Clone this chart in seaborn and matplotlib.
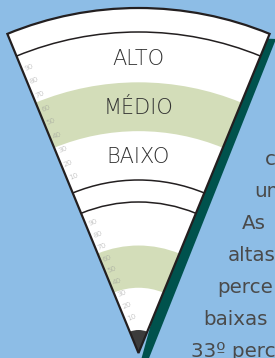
import numpy as np
import matplotlib
matplotlib.use("Agg")
import matplotlib.pyplot as plt
import seaborn as sns
from matplotlib.patches import Wedge, Arc, Polygon

# chart content
band_labels = ["BAIXO", "MÉDIO", "ALTO"]
band_edges = [0, 33, 66, 100]          # percentile cut points
pct_ticks = [10, 20, 30, 40, 50, 60, 70, 80, 90]
side_text = ["c", "um", "As", "altas", "perce", "baixas", "33º perc"]

# colours
BG = "#8dbde6"
GREEN = "#d3ddb9"
TEAL = "#00524d"
INK = "#231f20"
TIP = "#3c3c3c"

sns.set_theme(style="white")
plt.rcParams["font.family"] = ["DejaVu Sans"]

W, H = 275, 358
fig = plt.figure(figsize=(W / 100, H / 100), dpi=100, facecolor=BG)
ax = fig.add_axes([0, 0, 1, 1])
ax.set_xlim(0, W)
ax.set_ylim(0, H)
ax.set_facecolor(BG)
ax.axis("off")

apex = np.array([138.5, 5.0])
half = np.degrees(np.arctan(131.5 / 320))
t1, t2 = 90 - half, 90 + half
R_OUT = 345
# two percentile scales: (radius at 0, radius at 100)
scales = [(173, 321), (23, 151)]


def rad(scale, p):
    r0, r1 = scale
    return r0 + (r1 - r0) * p / 100


# shadow along the right edge (pixel coords, y down)
shadow = [(230, 37), (276, 39), (147.5, 362), (140.5, 362)]
ax.add_patch(Polygon([(x, H - y) for x, y in shadow], closed=True,
                     fc=TEAL, ec="none", zorder=1))

ax.add_patch(Wedge(apex, R_OUT, t1, t2, fc="white", ec="none", zorder=2))

# middle band on both scales
for sc in scales:
    lo, hi = rad(sc, band_edges[1]), rad(sc, band_edges[2])
    ax.add_patch(Wedge(apex, hi, t1, t2, width=hi - lo,
                       fc=GREEN, ec="none", zorder=3))

ax.add_patch(Wedge(apex, scales[1][0], t1, t2, fc=TIP, ec="none", zorder=3))

for r in [scales[0][1], scales[0][0], scales[1][1]]:
    ax.add_patch(Arc(apex, 2 * r, 2 * r, theta1=t1, theta2=t2,
                     color=INK, lw=1.1, zorder=4))

ax.add_patch(Wedge(apex, R_OUT, t1, t2, fc="none", ec=INK, lw=1.6,
                   joinstyle="miter", zorder=5))

# percentile ticks along the left edge
u = np.array([np.cos(np.radians(t2)), np.sin(np.radians(t2))])
n = np.array([u[1], -u[0]])
for sc in scales:
    for p in pct_ticks:
        pos = apex + rad(sc, p) * u + 2.5 * n
        ax.text(pos[0], pos[1], str(p), fontsize=5.2, color="#969696",
                rotation=half, rotation_mode="anchor", ha="left",
                va="center", fontweight="light", zorder=6)

# band names on the upper scale
for i, lab in enumerate(band_labels):
    mid = (band_edges[i] + band_edges[i + 1]) / 2
    yc = apex[1] + rad(scales[0], mid)
    ax.text(apex[0], yc - 7.5, lab, fontsize=15, color="#333333",
            ha="center", va="baseline", fontweight="light", zorder=6)

# text on the right, cut by the picture edge
xs = [265, 254, 242, 228, 217, 203, 191]
for i, (x, s) in enumerate(zip(xs, side_text)):
    ax.text(x, 193 - 32 * i, s, fontsize=14.3, color="#4a4a4a",
            ha="left", va="baseline", zorder=6)

fig.savefig("out.png", dpi=100, facecolor=BG)
